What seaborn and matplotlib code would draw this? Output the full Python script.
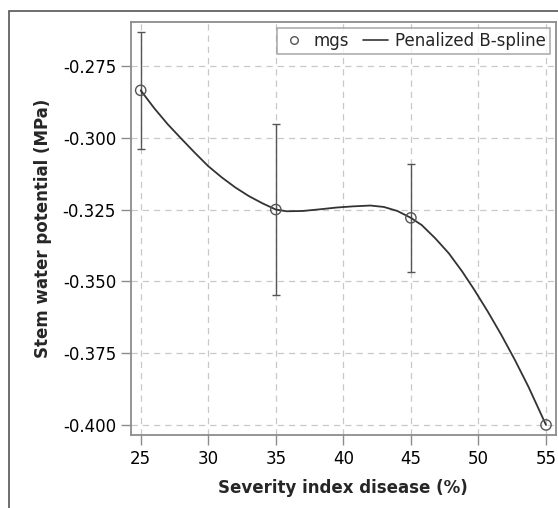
import matplotlib
matplotlib.use("Agg")
import matplotlib.pyplot as plt
import pandas as pd
import seaborn as sns
from matplotlib.lines import Line2D
from matplotlib.patches import Rectangle

# observed group means with error half-widths
SEVERITY = [25, 35, 45, 55]
MGS = [-0.2835, -0.3250, -0.3279, -0.4000]
MGS_ERR = [0.0203, 0.0297, 0.0189, 0.0]

# penalized B-spline
SPLINE_X = [25.0, 26.0, 27.0, 28.0, 29.0, 30.0, 31.0, 32.0, 33.0, 34.0, 35.0,
            35.8, 37.0, 38.3, 39.5, 40.7, 42.0, 43.0, 44.0, 45.0,
            45.8, 46.8, 47.8, 48.8, 49.7, 50.7, 51.7, 52.7, 53.7, 55.0]
SPLINE_Y = [-0.2835, -0.2897, -0.2953, -0.3003, -0.3052, -0.3099, -0.3138, -0.3173,
            -0.3203, -0.3228, -0.3250,
            -0.3256, -0.3255, -0.3249, -0.3243, -0.3239, -0.3236, -0.3241, -0.3255, -0.3279,
            -0.3304, -0.3350, -0.3402, -0.3466, -0.3530, -0.3606, -0.3687, -0.3774,
            -0.3867, -0.4000]

X_TICKS = [25, 30, 35, 40, 45, 50, 55]
Y_TICKS = [-0.275, -0.300, -0.325, -0.350, -0.375, -0.400]

INK = "#333333"
GRID = "#c8c8c8"
SPINE = "#8c8c8c"

sns.set_theme(style="whitegrid")
plt.rcParams["font.family"] = ["DejaVu Sans"]
plt.rcParams["axes.unicode_minus"] = False

fig = plt.figure(figsize=(5.58, 5.08), dpi=100)
ax = fig.add_axes([130.7 / 558, 1 - 435 / 508, (556 - 130.7) / 558, (435 - 22) / 508])

# outer frame, cropped on right/bottom like the reference
fig.patches.append(Rectangle((9 / 558, -0.1), 1.2, 1.1 - 11 / 508, transform=fig.transFigure,
                             fill=False, edgecolor="#555555", linewidth=1.2))

pts = pd.DataFrame({"severity": SEVERITY, "mgs": MGS, "err": MGS_ERR})
curve = pd.DataFrame({"severity": SPLINE_X, "fit": SPLINE_Y})

err_pts = pts[pts["err"] > 0]
ax.errorbar(err_pts["severity"], err_pts["mgs"], yerr=err_pts["err"], fmt="none",
            ecolor="#555555", elinewidth=1.0, capsize=3, capthick=1.0, zorder=2)
sns.lineplot(data=curve, x="severity", y="fit", ax=ax, color=INK, linewidth=1.3, zorder=3)
sns.scatterplot(data=pts, x="severity", y="mgs", ax=ax, marker="o", s=55,
                facecolor="none", edgecolor="#555555", linewidth=1.0, zorder=4)

ax.set_xlim(24.26, 55.74)
ax.set_ylim(-0.4035, -0.2597)
ax.set_xticks(X_TICKS)
ax.set_yticks(Y_TICKS)
ax.set_yticklabels([f"{v:.3f}" for v in Y_TICKS])
ax.tick_params(axis="both", which="major", labelsize=12, length=7, width=1.0,
               color=SPINE, labelcolor="black", direction="out", bottom=True, left=True)
ax.set_xlabel("Severity index disease (%)", fontsize=12, fontweight="bold", labelpad=8)
ax.set_ylabel("Stem water potential (MPa)", fontsize=12, fontweight="bold", labelpad=8)

ax.grid(True, linestyle=(0, (5, 4)), color=GRID, linewidth=0.9)
for side in ["left", "bottom", "top", "right"]:
    ax.spines[side].set_visible(True)
    ax.spines[side].set_color(SPINE)
    ax.spines[side].set_linewidth(1.3)

handles = [
    Line2D([], [], marker="o", linestyle="none", markerfacecolor="none",
           markeredgecolor="#555555", markersize=5.5, label="mgs"),
    Line2D([], [], color=INK, linewidth=1.2, label="Penalized B-spline"),
]
leg = ax.legend(handles=handles, loc="upper right", ncol=2, fontsize=12, frameon=True,
                fancybox=False, borderaxespad=0.35, handlelength=1.5, handletextpad=0.45,
                columnspacing=0.8, borderpad=0.25)
leg.get_frame().set_edgecolor("#999999")
leg.get_frame().set_linewidth(1.2)

fig.savefig("out.png", dpi=100)
